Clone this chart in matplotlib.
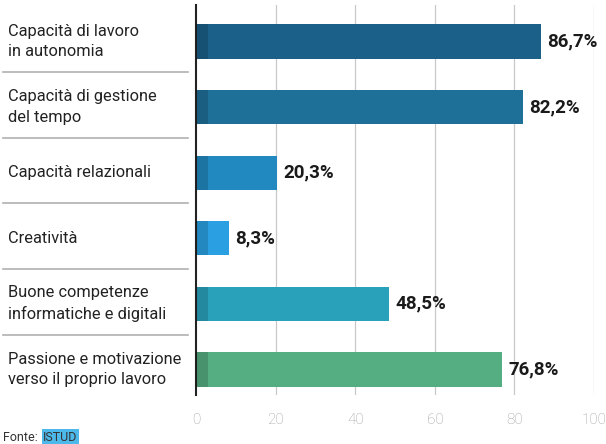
import matplotlib.pyplot as plt

# data
labels = ['Capacità di lavoro\nin autonomia',
          'Capacità di gestione\ndel tempo',
          'Capacità relazionali',
          'Creatività',
          'Buone competenze\ninformatiche e digitali',
          'Passione e motivazione\nverso il proprio lavoro']
values = [86.7, 82.2, 20.3, 8.3, 48.5, 76.8]
value_text = ['86,7%', '82,2%', '20,3%', '8,3%', '48,5%', '76,8%']
colors = ['#1b6089', '#1f7099', '#2189c0', '#2a9fe2', '#2aa1ba', '#55ad82']
ticks = [0, 20, 40, 60, 80, 100]

plt.rcParams['font.family'] = ['Roboto', 'DejaVu Sans']

fig = plt.figure(figsize=(6.06, 4.44), dpi=100)
ax = fig.add_axes([0.3234, 0.1104, 0.657, 0.8783])

for x in ticks[1:]:
    ax.axvline(x, color='#c8c8c8', lw=0.9, zorder=0)

ypos = list(range(len(values)))
ax.barh(ypos, values, height=0.52, color=colors, zorder=2)
# darker stub at the start of each bar
ax.barh(ypos, [3] * len(values), height=0.52, color='black', alpha=0.15, zorder=3)

for y, v, t in zip(ypos, values, value_text):
    ax.text(v + 1.6, y, t, va='center', ha='left', fontsize=13.5,
            fontweight='bold', color='#1a1a1a')

ax.set_xlim(0, 100)
ax.set_ylim(5.389, -0.556)
ax.set_xticks(ticks)
ax.set_xticklabels([str(t) for t in ticks], color='#a0a0a0', fontsize=11,
                   fontweight='light')
ax.tick_params(axis='x', length=0, pad=13)
ax.set_yticks([])
for s in ['top', 'right', 'bottom']:
    ax.spines[s].set_visible(False)
ax.spines['left'].set_color('#222222')
ax.spines['left'].set_linewidth(1.5)

# category labels and separators on the left
for i, lab in enumerate(labels):
    yc = 1 - (41.5 + 65.6 * i) / 444
    fig.text(8 / 606, yc, lab, va='center', ha='left', fontsize=11.8,
             color='#222222', linespacing=1.45)
    if i < len(labels) - 1:
        ys = 1 - (72 + 65.7 * i) / 444
        fig.add_artist(plt.Line2D([3 / 606, 188 / 606], [ys, ys],
                                  color='#b0b0b0', lw=1.2,
                                  transform=fig.transFigure))

fig.text(3 / 606, 1 - 437 / 444, 'Fonte:', va='center', ha='left',
         fontsize=9, color='#333333')
fig.text(43 / 606, 1 - 437 / 444, 'ISTUD', va='center', ha='left',
         fontsize=9, color='#333333',
         bbox=dict(boxstyle='square,pad=0.12', fc='#4db8ea', ec='none'))

fig.savefig('out.png', dpi=100)
